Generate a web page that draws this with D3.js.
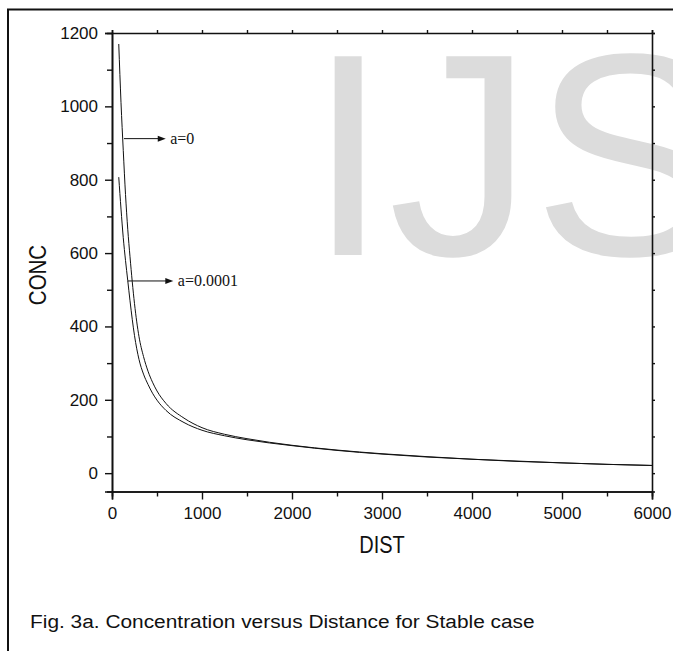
<!DOCTYPE html>
<html>
<head>
<meta charset="utf-8">
<script src="https://cdn.jsdelivr.net/npm/d3@7"></script>
<style>
  html, body { margin: 0; padding: 0; background: #fff; }
  svg { display: block; }
  text { font-family: "Liberation Sans", Arial, sans-serif; fill: #111; }
</style>
</head>
<body>
<svg id="chart" width="673" height="651"></svg>
<script>
// Concentration vs distance, stable case
const distA0   = [75, 100, 125, 150, 175, 200, 250, 300, 350, 400, 450, 500, 600, 800, 1000, 1250, 1500, 2000, 2500, 3000, 3500, 4000, 4500, 5000, 5500, 6000];
const concA0   = [1170, 1010, 880, 760, 665, 590, 462, 372, 318, 278, 248, 224, 190, 150, 124, 106, 94, 76, 63, 53, 45, 38, 33, 28, 24, 21];
const distA1   = [75, 100, 125, 150, 175, 200, 250, 300, 350, 400, 450, 500, 600, 800, 1000, 1250, 1500, 2000, 2500, 3000, 3500, 4000, 4500, 5000, 5500, 6000];
const concA1   = [807, 720, 642, 580, 525, 470, 375, 310, 270, 242, 218, 199, 171, 138, 117, 102, 91, 75, 62, 52, 44, 38, 32, 28, 24, 21];

const xMajorTicks = [0, 1000, 2000, 3000, 4000, 5000, 6000];
const xMinorTicks = [500, 1500, 2500, 3500, 4500, 5500];
const yMajorTicks = [0, 200, 400, 600, 800, 1000, 1200];
const yMinorTicks = [100, 300, 500, 700, 900, 1100];

// annotation labels: label, DIST where the arrow leaves the curve, CONC of the arrow, DIST of the arrow tip
const annotLabels = ["a=0", "a=0.0001"];
const annotStart  = [133, 174];
const annotConc   = [912, 524];
const annotTip    = [597, 681];

const svg = d3.select("#chart");
const pL = 112, pR = 652, pT = 33, pB = 491.5;

const x = d3.scaleLinear().domain([0, 6000]).range([pL, pR]);
const y = d3.scaleLinear().domain([-50, 1200]).range([pB, pT]);

// watermark
svg.append("text")
  .attr("x", 308).attr("y", 255)
  .style("font-size", "289px")
  .style("fill", "#dcdcdc")
  .text("IJS");

// outer frame (left and top edges)
svg.append("path")
  .attr("d", "M8,651V9.5H673")
  .attr("fill", "none").attr("stroke", "#111").attr("stroke-width", 2);

// axes
function styleAxis(g) {
  g.select(".domain").attr("stroke", "#111").attr("stroke-width", 1.6);
  g.selectAll(".tick line").attr("stroke", "#111").attr("stroke-width", 1.4);
  g.selectAll(".tick text").style("font-size", "17px").attr("fill", "#111");
}

svg.append("g").attr("transform", `translate(0,${pB})`)
  .call(d3.axisBottom(x).tickValues(xMinorTicks).tickSize(5).tickFormat(""))
  .call(styleAxis);
svg.append("g").attr("transform", `translate(0,${pB})`)
  .call(d3.axisBottom(x).tickValues(xMajorTicks).tickSize(8).tickPadding(7.5).tickFormat(d3.format("d")))
  .call(styleAxis);

svg.append("g").attr("transform", `translate(${pL},0)`)
  .call(d3.axisLeft(y).tickValues(yMinorTicks).tickSize(5).tickFormat(""))
  .call(styleAxis);
svg.append("g").attr("transform", `translate(${pL},0)`)
  .call(d3.axisLeft(y).tickValues(yMajorTicks).tickSize(7).tickPadding(7).tickFormat(d3.format("d")))
  .call(styleAxis);

svg.append("g").attr("transform", `translate(0,${pT})`)
  .call(d3.axisTop(x).tickValues(xMajorTicks.concat(xMinorTicks)).tickSize(3).tickFormat(""))
  .call(styleAxis);
svg.append("g").attr("transform", `translate(${pR},0)`)
  .call(d3.axisRight(y).tickValues(yMajorTicks.concat(yMinorTicks)).tickSize(3).tickFormat(""))
  .call(styleAxis);

// curves
const line = d3.line().x(d => x(d[0])).y(d => y(d[1])).curve(d3.curveMonotoneX);
[[distA0, concA0], [distA1, concA1]].forEach(([ds, cs]) => {
  svg.append("path")
    .datum(ds.map((d, i) => [d, cs[i]]))
    .attr("d", line)
    .attr("fill", "none").attr("stroke", "#111").attr("stroke-width", 1);
});

// annotation arrows
annotLabels.forEach((lab, i) => {
  const yy = y(annotConc[i]);
  const x0 = x(annotStart[i]), x1 = x(annotTip[i]);
  svg.append("line").attr("x1", x0).attr("x2", x1 - 6).attr("y1", yy).attr("y2", yy)
    .attr("stroke", "#111").attr("stroke-width", 1);
  svg.append("path")
    .attr("d", `M${x1},${yy}L${x1 - 8},${yy - 3}L${x1 - 8},${yy + 3}Z`)
    .attr("fill", "#111");
  svg.append("text")
    .attr("x", x1 + 4.5).attr("y", yy)
    .attr("dominant-baseline", "central")
    .style("font-family", "'Liberation Serif', 'Times New Roman', serif")
    .style("font-size", "16px")
    .text(lab);
});

// axis titles
svg.append("text")
  .attr("transform", `translate(${(pL + pR) / 2},553) scale(1,1.15)`)
  .attr("text-anchor", "middle")
  .style("font-size", "20px")
  .text("DIST");

svg.append("text")
  .attr("transform", "translate(46,275) rotate(-90) scale(1,1.15)")
  .attr("text-anchor", "middle")
  .style("font-size", "20.5px")
  .text("CONC");

// caption
svg.append("text")
  .attr("transform", "translate(30,628) scale(1.16,1)")
  .style("font-size", "18px")
  .text("Fig. 3a. Concentration versus Distance for Stable case");
</script>
</body>
</html>
